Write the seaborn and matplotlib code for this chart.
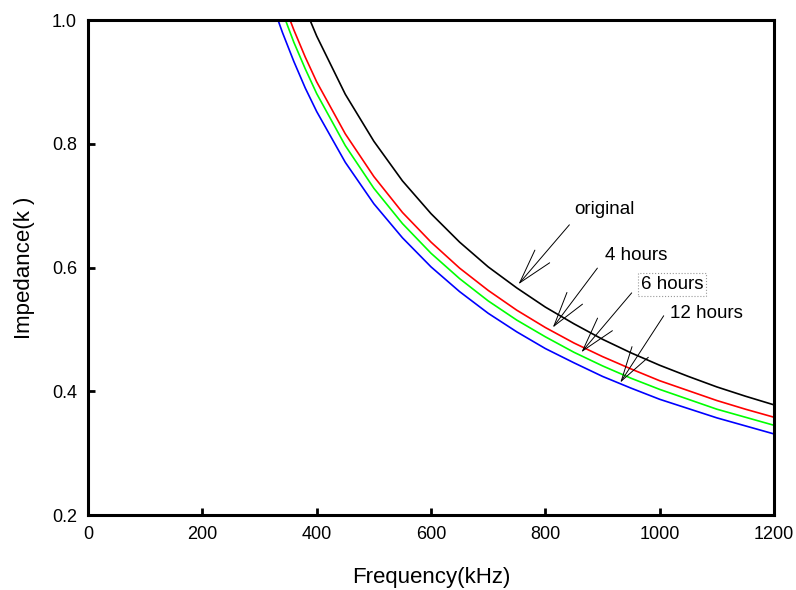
import numpy as np
import pandas as pd
import matplotlib
matplotlib.use("Agg")
import matplotlib.pyplot as plt
import seaborn as sns

# ── data ──────────────────────────────────────────────────
FREQ = [300, 320, 340, 360, 380, 400, 450, 500, 550, 600, 650, 700,
        750, 800, 850, 900, 950, 1000, 1050, 1100, 1150, 1200]
ORIGINAL = [1.248, 1.181, 1.121, 1.067, 1.018, 0.974, 0.880, 0.804, 0.740, 0.687, 0.641,
            0.601, 0.567, 0.536, 0.509, 0.484, 0.462, 0.442, 0.424, 0.407, 0.392, 0.378]
HOURS_4 = [1.146, 1.086, 1.032, 0.984, 0.940, 0.900, 0.816, 0.747, 0.689, 0.641, 0.599,
           0.563, 0.531, 0.503, 0.478, 0.456, 0.436, 0.417, 0.401, 0.385, 0.371, 0.358]
HOURS_6 = [1.127, 1.066, 1.013, 0.964, 0.921, 0.881, 0.797, 0.728, 0.671, 0.623, 0.582,
           0.546, 0.515, 0.488, 0.463, 0.441, 0.421, 0.403, 0.387, 0.371, 0.358, 0.345]
HOURS_12 = [1.091, 1.032, 0.980, 0.933, 0.890, 0.852, 0.770, 0.703, 0.648, 0.601, 0.561,
            0.526, 0.496, 0.469, 0.446, 0.424, 0.405, 0.387, 0.372, 0.357, 0.344, 0.331]

SERIES = ["original", "4 hours", "6 hours", "12 hours"]
COLORS = ["#000000", "#ff0000", "#00ff00", "#0000ff"]

# label text position, arrow tail, arrow tip (data coords)
LABEL_POS = [(904, 0.693), (959, 0.619), (1022, 0.573), (1082, 0.525)]
ARROW_TAIL = [(842, 0.669), (891, 0.599), (951, 0.559), (1007, 0.522)]
ARROW_TIP = [(753, 0.573), (813, 0.503), (863, 0.463), (931, 0.414)]

df = pd.DataFrame({
    "freq": FREQ * 4,
    "imp": ORIGINAL + HOURS_4 + HOURS_6 + HOURS_12,
    "series": np.repeat(SERIES, len(FREQ)),
})

# ── plot ──────────────────────────────────────────────────
sns.set_style("white")
plt.rcParams["font.family"] = ["Liberation Sans", "DejaVu Sans"]
plt.rcParams["text.color"] = "black"
plt.rcParams["axes.labelcolor"] = "black"
plt.rcParams["xtick.color"] = "black"
plt.rcParams["ytick.color"] = "black"

fig = plt.figure(figsize=(7.96, 5.90), dpi=100)
ax = fig.add_axes([0.1106, 0.1271, 0.8618, 0.8390])

sns.lineplot(data=df, x="freq", y="imp", hue="series", hue_order=SERIES,
             palette=COLORS, linewidth=1.2, legend=False, ax=ax)

ax.set_xlim(0, 1200)
ax.set_ylim(0.2, 1.0)
ax.set_xticks([0, 200, 400, 600, 800, 1000, 1200])
ax.set_yticks([0.2, 0.4, 0.6, 0.8, 1.0])
ax.set_yticklabels(["0.2", "0.4", "0.6", "0.8", "1.0"])
ax.tick_params(direction="in", length=5, width=2, labelsize=13, pad=8,
               colors="black", top=False, right=False, left=True, bottom=True)
for sp in ax.spines.values():
    sp.set_linewidth(2.2)
    sp.set_color("black")

ax.set_xlabel("Frequency(kHz)", fontsize=16)
ax.set_ylabel("Impedance(k )", fontsize=16)
ax.xaxis.set_label_coords(0.5, -0.105)
ax.yaxis.set_label_coords(-0.077, 0.5)

# ── annotations ───────────────────────────────────────────
for i, name in enumerate(SERIES):
    ax.text(*LABEL_POS[i], name, fontsize=13.5, ha="center", va="center", color="black",
            bbox=dict(boxstyle="square,pad=0.15", fc="none", ec="#999999",
                      ls=":", lw=0.8) if name == "6 hours" else None)
    ax.annotate("", xy=ARROW_TIP[i], xytext=ARROW_TAIL[i],
                arrowprops=dict(arrowstyle="->,head_length=2.5,head_width=0.7",
                                mutation_scale=10, lw=0.7, color="black",
                                shrinkA=0, shrinkB=0))

fig.savefig("out.png", dpi=100)
